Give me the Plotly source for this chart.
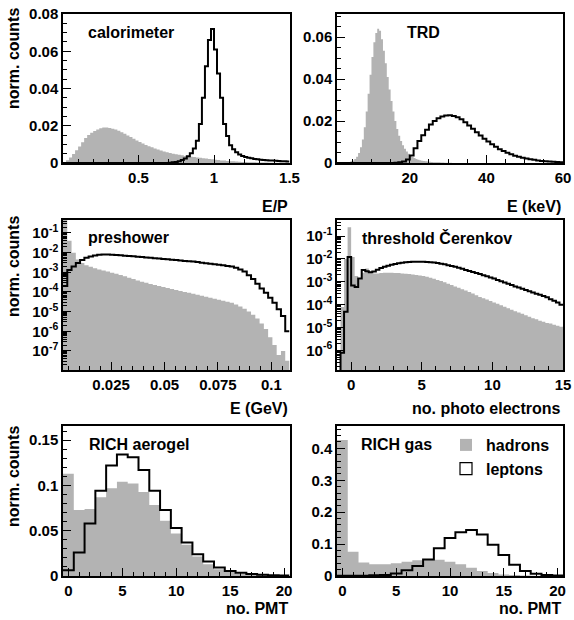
import plotly.graph_objects as go

# ---------------- data ----------------
# calorimeter: E/P, bins of 0.02 starting at 0.0
calo_bin_lo, calo_bin_w = 0.0, 0.02
calo_hadrons = [
    0.0005, 0.0015, 0.0030, 0.0048, 0.0068, 0.0088, 0.0112, 0.0134, 0.0150, 0.0162,
    0.0172, 0.0180, 0.0186, 0.0190, 0.0190, 0.0188, 0.0184, 0.0180, 0.0173, 0.0165,
    0.0157, 0.0148, 0.0139, 0.0130, 0.0121, 0.0113, 0.0105, 0.0097, 0.0090, 0.0084,
    0.0078, 0.0072, 0.0067, 0.0062, 0.0058, 0.0054, 0.0050, 0.0047, 0.0044, 0.0041,
    0.0038, 0.0036, 0.0034, 0.0032, 0.0030, 0.0028, 0.0026, 0.0024, 0.0022, 0.0020,
    0.0018, 0.0016, 0.0014, 0.0013, 0.0011, 0.0010, 0.0009, 0.0008, 0.0007, 0.0006,
    0.0005, 0.00045, 0.0004, 0.00035, 0.0003, 0.00028, 0.00025, 0.00022, 0.0002, 0.00018,
    0.00016, 0.00014, 0.00012, 0.00011, 0.0001]
calo_leptons = [
    0, 0, 0, 0, 0, 0, 0, 0, 0, 0,
    0, 0, 0, 0, 0, 0, 0, 0, 0, 0,
    0, 0, 0, 0, 0, 0, 0, 0, 0, 0,
    0, 0, 0, 0, 0, 0.0002, 0.0004, 0.0006, 0.0010, 0.0016,
    0.0024, 0.0036, 0.0052, 0.0078, 0.0120, 0.021, 0.035, 0.052, 0.066, 0.072,
    0.061, 0.048, 0.035, 0.021, 0.0145, 0.0095, 0.0074, 0.0058, 0.0046, 0.0038,
    0.0032, 0.0028, 0.0025, 0.0022, 0.0020, 0.0018, 0.0016, 0.0015, 0.0014, 0.0013,
    0.0012, 0.0011, 0.0010, 0.0009, 0.0008]

# TRD: E (keV); hadrons in 0.5 keV bins from 1 keV, leptons in 1 keV bins from 1 keV
trd_had_bin_lo, trd_had_bin_w = 1.0, 0.5
trd_hadrons = [
    0.0001, 0.0001, 0.0001, 0.0001, 0.0002, 0.0003, 0.0005, 0.0008, 0.0012, 0.0019,
    0.0030, 0.0048, 0.0075, 0.0112, 0.0170, 0.0245, 0.0330, 0.0420, 0.0505, 0.0575,
    0.0620, 0.0640, 0.0630, 0.0590, 0.0535, 0.0475, 0.0410, 0.0350, 0.0295, 0.0245,
    0.0200, 0.0162, 0.0130, 0.0105, 0.0084, 0.0068, 0.0055, 0.0044, 0.0036, 0.0029,
    0.0024, 0.0019, 0.0016, 0.0013, 0.0011, 0.0009, 0.0008, 0.0007, 0.0006, 0.0005,
    0.0004, 0.0004, 0.0003, 0.0003, 0.0002, 0.0002, 0.00015, 0.00015, 0.0001, 0.0001]
trd_lep_bin_lo, trd_lep_bin_w = 1.0, 1.0
trd_leptons = [
    0, 0, 0, 0, 0, 0, 0, 0, 0, 0,
    0, 0, 0, 0, 0, 0.0001, 0.0003, 0.0007, 0.0017, 0.0036,
    0.0070, 0.0105, 0.0132, 0.0158, 0.0183, 0.0200, 0.0213, 0.0222, 0.0226, 0.0227,
    0.0224, 0.0218, 0.0208, 0.0194, 0.0179, 0.0163, 0.0147, 0.0131, 0.0116, 0.0102,
    0.0089, 0.0077, 0.0066, 0.0057, 0.0049, 0.0042, 0.0035, 0.0030, 0.0025, 0.0021,
    0.0018, 0.0015, 0.0012, 0.0010, 0.0008, 0.0007, 0.0006, 0.0005, 0.0004]

# preshower: E (GeV), bins of 0.002 starting at 0.0025
pre_bin_lo, pre_bin_w = 0.0025, 0.002
pre_hadrons = [
    6.3e-1, 4.0e-2, 1.0e-2, 4.5e-3, 3.0e-3, 2.3e-3, 1.9e-3, 1.6e-3, 1.4e-3, 1.25e-3,
    1.1e-3, 9.6e-4, 8.5e-4, 7.2e-4, 6.2e-4, 5.3e-4, 4.5e-4, 3.8e-4, 3.3e-4, 2.9e-4,
    2.55e-4, 2.25e-4, 2.0e-4, 1.8e-4, 1.6e-4, 1.42e-4, 1.27e-4, 1.13e-4, 1.0e-4, 9.0e-5,
    8.0e-5, 7.2e-5, 6.4e-5, 5.7e-5, 5.0e-5, 4.5e-5, 4.0e-5, 3.6e-5, 3.2e-5, 2.8e-5,
    2.3e-5, 1.8e-5, 1.4e-5, 1.0e-5, 7.0e-6, 4.5e-6, 2.5e-6, 1.3e-6, 5.0e-7, 2.0e-7,
    6.3e-8, 1.0e-7, 3.2e-8]
pre_leptons = [
    2.0e-4, 1.3e-3, 2.0e-3, 3.0e-3, 4.2e-3, 5.5e-3, 6.3e-3, 7.2e-3, 7.8e-3, 8.1e-3,
    8.1e-3, 7.9e-3, 7.6e-3, 7.3e-3, 7.0e-3, 6.8e-3, 6.5e-3, 6.2e-3, 6.0e-3, 5.7e-3,
    5.5e-3, 5.2e-3, 5.0e-3, 4.8e-3, 4.6e-3, 4.4e-3, 4.2e-3, 4.0e-3, 3.8e-3, 3.6e-3,
    3.5e-3, 3.3e-3, 3.1e-3, 2.9e-3, 2.75e-3, 2.6e-3, 2.4e-3, 2.25e-3, 2.1e-3, 1.95e-3,
    1.7e-3, 1.4e-3, 1.1e-3, 7.0e-4, 4.5e-4, 2.6e-4, 1.5e-4, 9.0e-5, 5.0e-5, 2.8e-5,
    1.3e-5, 6.0e-6, 1.0e-6]

# threshold Cerenkov: no. photo electrons, bins of 0.25 starting at -1
cer_bin_lo, cer_bin_w = -1.0, 0.25
cer_hadrons = [
    0, 8e-5, 1.0e-2, 0.24, 1.2e-2, 1.8e-3, 1.3e-3, 2.5e-3, 3.8e-3, 2.8e-3,
    2.3e-3, 2.3e-3, 2.4e-3, 2.5e-3, 2.5e-3, 2.5e-3, 2.45e-3, 2.4e-3, 2.3e-3, 2.25e-3,
    2.2e-3, 2.1e-3, 2.0e-3, 1.9e-3, 1.8e-3, 1.65e-3, 1.5e-3, 1.35e-3, 1.2e-3, 1.1e-3,
    9.5e-4, 8.3e-4, 7.2e-4, 6.3e-4, 5.5e-4, 4.8e-4, 4.2e-4, 3.6e-4, 3.1e-4, 2.6e-4,
    2.2e-4, 1.9e-4, 1.7e-4, 1.45e-4, 1.25e-4, 1.1e-4, 9.5e-5, 8.2e-5, 7.0e-5, 6.0e-5,
    5.2e-5, 4.6e-5, 4.0e-5, 3.5e-5, 3.0e-5, 2.6e-5, 2.3e-5, 2.0e-5, 1.8e-5, 1.6e-5,
    1.5e-5, 1.35e-5, 1.2e-5, 1.1e-5]
cer_leptons = [
    1e-9, 8e-7, 5e-5, 1.2e-2, 7e-4, 6e-4, 1.4e-3, 3.3e-3, 2.9e-3, 2.6e-3,
    2.8e-3, 3.4e-3, 4.0e-3, 4.6e-3, 5.1e-3, 5.6e-3, 6.0e-3, 6.4e-3, 6.8e-3, 7.1e-3,
    7.3e-3, 7.5e-3, 7.6e-3, 7.6e-3, 7.5e-3, 7.3e-3, 7.1e-3, 6.9e-3, 6.6e-3, 6.2e-3,
    5.8e-3, 5.3e-3, 4.9e-3, 4.5e-3, 4.1e-3, 3.7e-3, 3.3e-3, 3.0e-3, 2.7e-3, 2.45e-3,
    2.2e-3, 1.95e-3, 1.75e-3, 1.55e-3, 1.4e-3, 1.2e-3, 1.05e-3, 9.3e-4, 8.2e-4, 7.2e-4,
    6.3e-4, 5.6e-4, 5.0e-4, 4.4e-4, 3.9e-4, 3.4e-4, 3.0e-4, 2.7e-4, 2.4e-4, 2.1e-4,
    1.75e-4, 1.5e-4, 1.25e-4, 1.0e-4]

# RICH: no. PMT, integer bins 0..20
pmt_bin_lo, pmt_bin_w = -0.5, 1.0
aero_hadrons = [0.113, 0.073, 0.074, 0.087, 0.097, 0.104, 0.102, 0.0926, 0.0785, 0.061,
                0.047, 0.0344, 0.0215, 0.013, 0.0074, 0.0044, 0.0025, 0.0015, 0.001, 0.0006, 0.0004]
aero_leptons = [0.0063, 0.026, 0.058, 0.094, 0.122, 0.134, 0.131, 0.117, 0.094, 0.073,
                0.053, 0.037, 0.024, 0.016, 0.0093, 0.0056, 0.0036, 0.0022, 0.0013, 0.0008, 0.0005]
gas_hadrons = [0.426, 0.0757, 0.042, 0.037, 0.037, 0.040, 0.045, 0.0494, 0.0526, 0.051,
               0.045, 0.037, 0.026, 0.016, 0.0095, 0.005, 0.003, 0.0015, 0.001, 0.0005, 0.0003]
gas_leptons = [0.001, 0.001, 0.001, 0.002, 0.003, 0.008, 0.018, 0.031, 0.052, 0.087,
               0.119, 0.137, 0.144, 0.130, 0.098, 0.066, 0.035, 0.016, 0.0074, 0.003, 0.0015]

panel_titles = ["calorimeter", "TRD", "preshower", "threshold Čerenkov", "RICH aerogel", "RICH gas"]
x_titles = ["E/P", "E (keV)", "E (GeV)", "no. photo electrons", "no. PMT", "no. PMT"]
y_title = "norm. counts"
legend_names = ["hadrons", "leptons"]

# ---------------- figure ----------------
W, H = 574, 620
GRAY = "#b3b3b3"
FONT = "Liberation Sans"


def edges(lo, w, vals):
    return [lo + w * i for i in range(len(vals) + 1)]


def px(x):
    return x / W


def py(y):
    return 1 - y / H


# pixel frames: (left, right, top, bottom)
frames = [
    (63, 289.5, 14, 163), (337, 563, 14, 163),
    (63, 289.5, 220, 370), (337, 563, 220, 370),
    (63, 289.5, 426, 576), (337, 563, 426, 576),
]

# (hadron binning, hadron values, lepton binning, lepton values, log y)
panels = [
    ((calo_bin_lo, calo_bin_w), calo_hadrons, (calo_bin_lo, calo_bin_w), calo_leptons, False),
    ((trd_had_bin_lo, trd_had_bin_w), trd_hadrons, (trd_lep_bin_lo, trd_lep_bin_w), trd_leptons, False),
    ((pre_bin_lo, pre_bin_w), pre_hadrons, (pre_bin_lo, pre_bin_w), pre_leptons, True),
    ((cer_bin_lo, cer_bin_w), cer_hadrons, (cer_bin_lo, cer_bin_w), cer_leptons, True),
    ((pmt_bin_lo, pmt_bin_w), aero_hadrons, (pmt_bin_lo, pmt_bin_w), aero_leptons, False),
    ((pmt_bin_lo, pmt_bin_w), gas_hadrons, (pmt_bin_lo, pmt_bin_w), gas_leptons, False),
]

fig = go.Figure()
for i, (hb, had, lb, lep, is_log) in enumerate(panels):
    n = "" if i == 0 else str(i + 1)
    base = 1e-12 if is_log else 0.0
    e = edges(hb[0], hb[1], had)
    hv = [v if v > 0 else base for v in had]
    # filled step histogram (hadrons), closed down to the axis baseline
    fig.add_trace(go.Scatter(
        x=[e[0]] + e + [e[-1]], y=[base] + hv + [hv[-1]] + [base],
        mode="lines", line=dict(width=0, shape="hv"),
        fill="toself", fillcolor=GRAY,
        xaxis="x" + n, yaxis="y" + n, showlegend=False, hoverinfo="skip",
        name=legend_names[0]))
    # open step histogram (leptons)
    el = edges(lb[0], lb[1], lep)
    fig.add_trace(go.Scatter(
        x=el, y=lep + [lep[-1]], mode="lines",
        line=dict(color="black", width=2, shape="hv"),
        xaxis="x" + n, yaxis="y" + n, showlegend=False, name=legend_names[1]))

# legend entries (shown in the RICH gas panel)
fig.add_trace(go.Bar(x=[None], y=[None], name=legend_names[0],
                     marker=dict(color=GRAY, line=dict(width=0)),
                     xaxis="x6", yaxis="y6", showlegend=True))
fig.add_trace(go.Bar(x=[None], y=[None], name=legend_names[1],
                     marker=dict(color="white", line=dict(color="black", width=1.2)),
                     xaxis="x6", yaxis="y6", showlegend=True))

axis_common = dict(showline=True, linecolor="black", linewidth=1.5, mirror=True,
                   ticks="inside", ticklen=8, tickwidth=1, tickcolor="black",
                   showgrid=False, zeroline=False, automargin=False,
                   tickfont=dict(family=FONT, size=15, color="black", weight="bold"))


def lin_minor(d):
    return dict(tickmode="linear", tick0=0, dtick=d, ticks="inside", ticklen=4, tickcolor="black")


x_specs = [
    dict(range=[0, 1.5], tickmode="array", tickvals=[0.5, 1, 1.5], minor=lin_minor(0.1)),
    dict(range=[1, 60], tickmode="linear", tick0=0, dtick=20, minor=lin_minor(5)),
    dict(range=[0.0025, 0.1085], tickmode="linear", tick0=0, dtick=0.025, minor=lin_minor(0.005)),
    dict(range=[-1, 15], tickmode="linear", tick0=0, dtick=5, minor=lin_minor(1)),
    dict(range=[-0.5, 20.5], tickmode="linear", tick0=0, dtick=5, minor=lin_minor(1)),
    dict(range=[-0.5, 20.5], tickmode="linear", tick0=0, dtick=5, minor=lin_minor(1)),
]


def log_spec(lo_exp, hi, label_exps):
    major = [10.0 ** (-e) for e in label_exps]
    minor_vals = [k * 10.0 ** d for d in range(-9, 0) for k in range(2, 10)]
    return dict(type="log", range=[lo_exp, hi], tickmode="array",
                tickvals=major, ticktext=["10<sup>-%d</sup>" % e for e in label_exps],
                minor=dict(tickmode="array", tickvals=minor_vals, ticks="inside",
                           ticklen=4, tickcolor="black"))


y_specs = [
    dict(range=[0, 0.08], tickmode="linear", tick0=0, dtick=0.02, minor=lin_minor(0.005)),
    dict(range=[0, 0.071], tickmode="linear", tick0=0, dtick=0.02, minor=lin_minor(0.005)),
    log_spec(-7.97, -0.34, [1, 2, 3, 4, 5, 6, 7]),
    log_spec(-6.85, -0.30, [1, 2, 3, 4, 5, 6]),
    dict(range=[0, 0.1656], tickmode="linear", tick0=0, dtick=0.05, minor=lin_minor(0.01)),
    dict(range=[0, 0.47], tickmode="linear", tick0=0, dtick=0.1, minor=lin_minor(0.02)),
]

layout_axes = {}
for i, (l, r, t, b) in enumerate(frames):
    n = "" if i == 0 else str(i + 1)
    xa = dict(axis_common)
    xa.update(x_specs[i])
    xa.update(domain=[px(l), px(r)], anchor="y" + n)
    ya = dict(axis_common)
    ya.update(y_specs[i])
    ya.update(domain=[py(b), py(t)], anchor="x" + n)
    layout_axes["xaxis" + n] = xa
    layout_axes["yaxis" + n] = ya

annotations = []
txt_font = dict(family=FONT, size=16, color="black", weight="bold")
title_pos = [(86, 32), (405, 32), (86, 238), (360, 238), (87, 444), (359, 444)]
for (x, y), s in zip(title_pos, panel_titles):
    annotations.append(dict(text=s, x=px(x), y=py(y), xref="paper", yref="paper",
                            xanchor="left", yanchor="middle", showarrow=False, font=txt_font))
xt_pos = [(290, 206), (563, 206), (290, 408), (563, 408), (290, 608), (563, 608)]
for (x, y), s in zip(xt_pos, x_titles):
    annotations.append(dict(text=s, x=px(x), y=py(y), xref="paper", yref="paper",
                            xanchor="right", yanchor="middle", showarrow=False, font=txt_font))
for yc in (59, 267, 477):
    annotations.append(dict(text=y_title, x=px(13), y=py(yc), xref="paper", yref="paper",
                            xanchor="center", yanchor="middle", textangle=-90,
                            showarrow=False, font=txt_font))

fig.update_layout(
    width=W, height=H, autosize=False,
    margin=dict(l=0, r=0, t=0, b=0, pad=0, autoexpand=False),
    paper_bgcolor="white", plot_bgcolor="white",
    barmode="overlay", bargap=0,
    font=dict(family=FONT, size=15, color="black", weight="bold"),
    showlegend=True,
    legend=dict(x=px(446), y=py(428), xanchor="left", yanchor="top",
                bgcolor="rgba(0,0,0,0)", borderwidth=0, tracegroupgap=0,
                font=dict(family=FONT, size=16, color="black", weight="bold")),
    annotations=annotations,
    **layout_axes,
)

fig.write_html("out.html", config={"displayModeBar": False},
               post_script="document.body.style.margin='0';document.body.style.overflow='hidden';")
